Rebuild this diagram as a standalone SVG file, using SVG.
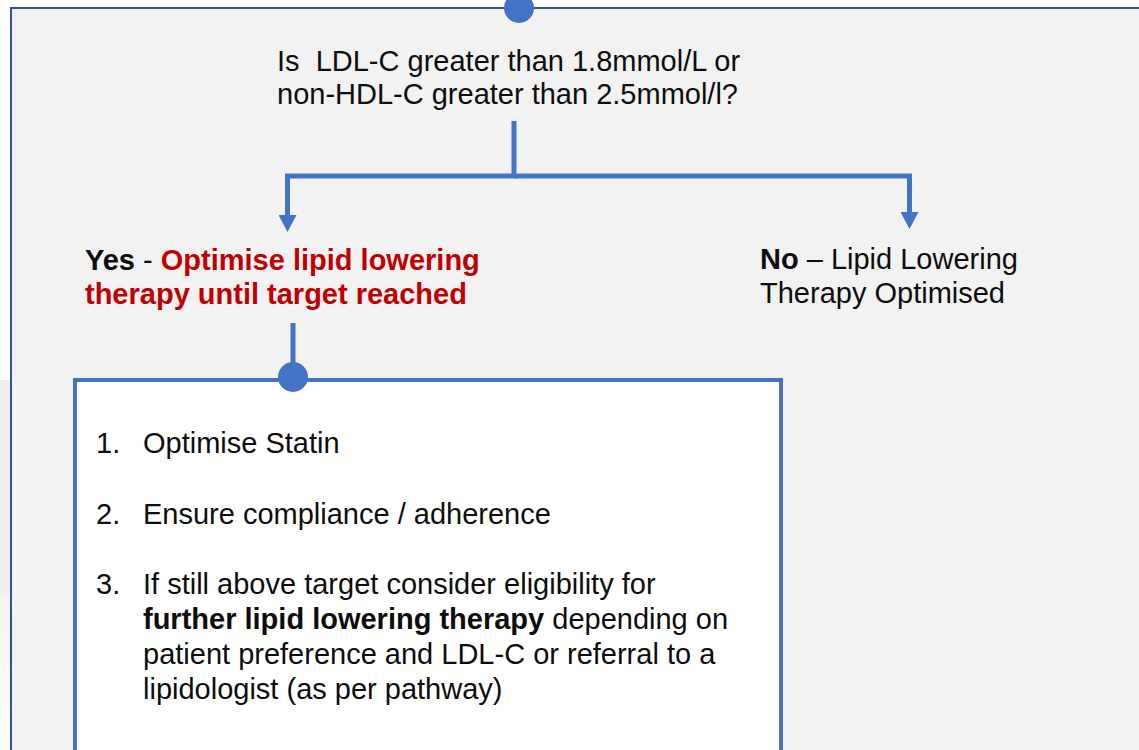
<svg xmlns="http://www.w3.org/2000/svg" width="1139" height="750" viewBox="0 0 1139 750">
  <defs>
    <style>
      .t { font-family: "Liberation Sans", Arial, sans-serif; font-size: 29px; fill: #0d0d0d; }
      .pre { white-space: pre; }
      .b { font-weight: bold; }
      .red { fill: #C00000; font-weight: bold; }
      .conn { fill: none; stroke: #4472C4; stroke-width: 5; }
      .dot { fill: #4472C4; }
    </style>
    <marker id="arrow" markerUnits="userSpaceOnUse" markerWidth="18" markerHeight="18" refX="1" refY="9" orient="auto" viewBox="0 0 18 18">
      <path d="M0,0 L17,9 L0,18 Z" fill="#4472C4"/>
    </marker>
    <linearGradient id="fade" x1="0" y1="0" x2="0" y2="1">
      <stop offset="0" stop-color="#F4F4F4"/>
      <stop offset="1" stop-color="#FDFDFD"/>
    </linearGradient>
  </defs>

  <rect x="0" y="0" width="1139" height="750" fill="#FFFFFF"/>
  <rect x="0" y="380" width="11" height="215" fill="#EFEFEF"/>
  <rect x="0" y="595" width="11" height="155" fill="url(#fade)"/>

  <g id="outer-panel">
    <rect x="11" y="8" width="1140" height="760" fill="#F2F2F2" stroke="#2F5597" stroke-width="2"/>
  </g>

  <g id="question">
    <circle class="dot" cx="519" cy="8" r="15"/>
    <text class="t pre" x="277" y="71" xml:space="preserve">Is  LDL-C greater than 1.8mmol/L or</text>
    <text class="t" x="277" y="104">non-HDL-C greater than 2.5mmol/l?</text>
  </g>

  <g id="connectors">
    <path class="conn" d="M514 121 V176 H287.5 V216" marker-end="url(#arrow)"/>
    <path class="conn" d="M514 176 H909.5 V213" marker-end="url(#arrow)"/>
    <line class="conn" x1="293" y1="323" x2="293" y2="377"/>
  </g>

  <g id="yes-node">
    <text class="t" x="85" y="270"><tspan class="b">Yes</tspan> - <tspan class="red">Optimise lipid lowering</tspan></text>
    <text class="t red" x="85" y="304">therapy until target reached</text>
  </g>

  <g id="no-node">
    <text class="t" x="760" y="269"><tspan class="b">No</tspan> – Lipid Lowering</text>
    <text class="t" x="760" y="303">Therapy Optimised</text>
  </g>

  <g id="actions-box">
    <rect x="75" y="380" width="706" height="420" fill="#FFFFFF" stroke="#4472C4" stroke-width="4"/>
    <circle class="dot" cx="293" cy="377" r="15"/>
    <text class="t" x="96" y="453">1.</text>
    <text class="t" x="143" y="453">Optimise Statin</text>
    <text class="t" x="96" y="524">2.</text>
    <text class="t" x="143" y="524">Ensure compliance / adherence</text>
    <text class="t" x="96" y="594">3.</text>
    <text class="t" x="143" y="594">If still above target consider eligibility for</text>
    <text class="t" x="143" y="629"><tspan class="b">further lipid lowering therapy</tspan> depending on</text>
    <text class="t" x="143" y="664">patient preference and LDL-C or referral to a</text>
    <text class="t" x="143" y="699">lipidologist (as per pathway)</text>
  </g>
</svg>
